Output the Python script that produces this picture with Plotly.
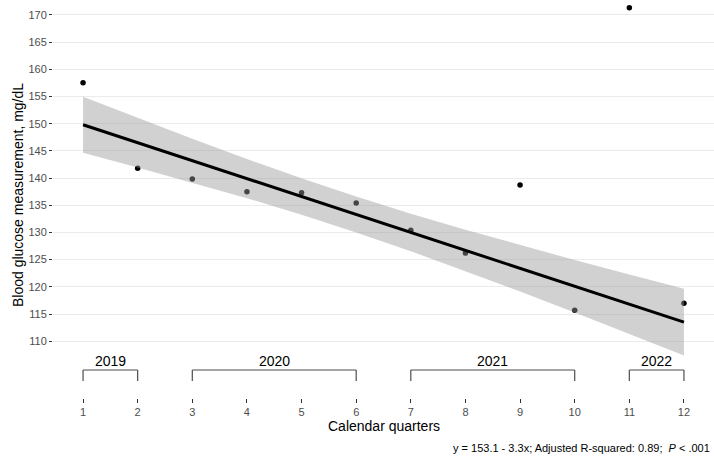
import plotly.graph_objects as go

# ---- data ----
quarters = [1, 2, 3, 4, 5, 6, 7, 8, 9, 10, 11, 12]
glucose = [157.5, 141.8, 139.8, 137.5, 137.3, 135.4, 130.4, 126.2, 138.7, 115.7, 171.3, 117.0]

fit_line = [149.8, 146.5, 143.2, 139.9, 136.6, 133.3, 130.0, 126.7, 123.4, 120.1, 116.8, 113.5]
ci_upper = [154.95, 151.04, 147.21, 143.5, 139.95, 136.6, 133.45, 130.48, 127.65, 124.93, 122.26, 119.65]
ci_lower = [144.65, 141.96, 139.19, 136.3, 133.25, 130.0, 126.55, 122.92, 119.15, 115.27, 111.34, 107.35]

years = ["2019", "2020", "2021", "2022"]
year_start = [1, 3, 7, 11]
year_end = [2, 6, 10, 12]

y_ticks = [110, 115, 120, 125, 130, 135, 140, 145, 150, 155, 160, 165, 170]
caption = "y = 153.1 - 3.3x; Adjusted R-squared: 0.89; &nbsp;<i>P</i> &lt; .001"

FONT = "Liberation Sans, Arial, Helvetica, sans-serif"

fig = go.Figure()

# points (drawn first so band greys those inside it)
fig.add_trace(go.Scatter(
    x=quarters, y=glucose, mode="markers", cliponaxis=False,
    marker=dict(color="black", size=5.5), showlegend=False, hoverinfo="skip"))

# confidence band
fig.add_trace(go.Scatter(
    x=quarters + quarters[::-1], y=ci_upper + ci_lower[::-1],
    mode="lines", fill="toself", fillcolor="rgba(153,153,153,0.45)",
    line=dict(width=0), showlegend=False, hoverinfo="skip"))

# regression line
fig.add_trace(go.Scatter(
    x=quarters, y=fit_line, mode="lines",
    line=dict(color="black", width=3), showlegend=False, hoverinfo="skip"))

# year brackets
shapes = []
annotations = []
for name, s, e in zip(years, year_start, year_end):
    line_style = dict(color="#4d4d4d", width=1.2)
    shapes.append(dict(type="line", xref="x", yref="paper", x0=s, x1=e,
                       y0=0.0711, y1=0.0711, line=line_style))
    shapes.append(dict(type="line", xref="x", yref="paper", x0=s, x1=s,
                       y0=0.0711, y1=0.043, line=line_style))
    shapes.append(dict(type="line", xref="x", yref="paper", x0=e, x1=e,
                       y0=0.0711, y1=0.043, line=line_style))
    annotations.append(dict(text=name, x=(s + e) / 2, xref="x", y=0.094, yref="paper",
                            showarrow=False, xanchor="center", yanchor="middle",
                            font=dict(family=FONT, size=14, color="black")))

annotations.append(dict(text="Calendar quarters", x=0.5, xref="paper", y=-0.071, yref="paper",
                        showarrow=False, xanchor="center", yanchor="middle",
                        font=dict(family=FONT, size=14, color="black")))
annotations.append(dict(text="Blood glucose measurement, mg/dL", x=-0.053, xref="paper",
                        y=0.515, yref="paper", textangle=-90, showarrow=False,
                        xanchor="center", yanchor="middle",
                        font=dict(family=FONT, size=14, color="black")))
annotations.append(dict(text=caption, x=0.997, xref="paper", y=-0.127, yref="paper",
                        showarrow=False, xanchor="right", yanchor="middle",
                        font=dict(family=FONT, size=11, color="black")))

fig.update_layout(
    width=714, height=456,
    margin=dict(l=53, r=0, t=4, b=58, autoexpand=False),
    paper_bgcolor="white", plot_bgcolor="white",
    font=dict(family=FONT),
    shapes=shapes, annotations=annotations,
    hovermode=False,
    xaxis=dict(range=[0.45, 12.55], tickmode="array", tickvals=quarters,
               ticktext=[str(q) for q in quarters], automargin=False,
               showgrid=False, zeroline=False, showline=False,
               ticks="outside", ticklen=4, tickwidth=1, tickcolor="#333333",
               tickfont=dict(family=FONT, size=11, color="#4d4d4d"),
               anchor="free", position=0),
    yaxis=dict(range=[106.8, 172], domain=[0.1, 1], tickmode="array", tickvals=y_ticks,
               automargin=False,
               showgrid=True, gridcolor="#ebebeb", gridwidth=1,
               zeroline=False, showline=False,
               ticks="outside", ticklen=3, tickwidth=1, tickcolor="#333333",
               tickfont=dict(family=FONT, size=11, color="#4d4d4d")),
)

fig.write_html("out.html", config={"displayModeBar": False},
               post_script="document.body.style.margin='0px';")
